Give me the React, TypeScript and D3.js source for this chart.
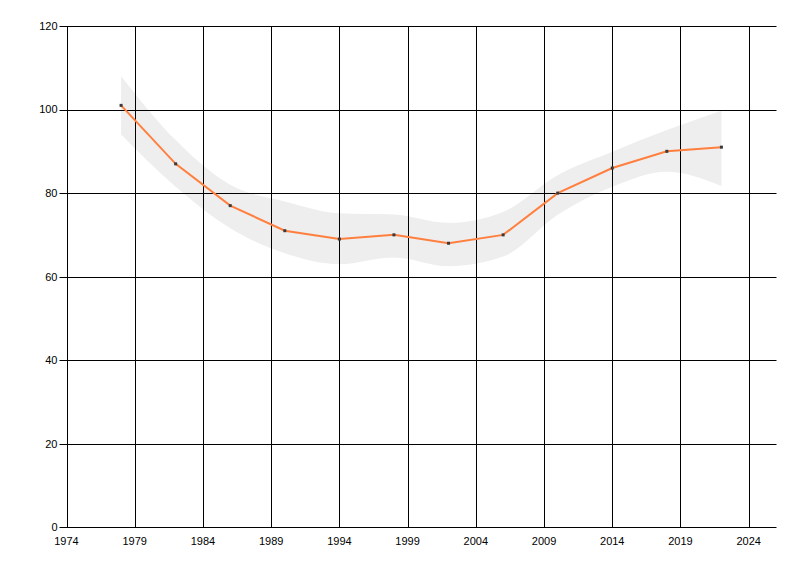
import React from "react";
import * as d3 from "d3";

const years = [1978, 1982, 1986, 1990, 1994, 1998, 2002, 2006, 2010, 2014, 2018, 2022];
const values = [101, 87, 77, 71, 69, 70, 68, 70, 80, 86, 90, 91];
const upper = [108, 92.7, 82, 78, 75.2, 74.9, 72.9, 75.5, 84.3, 89.9, 95.1, 99.7];
const lower = [94, 81.5, 71.6, 65.6, 63, 64.6, 62.5, 64.8, 74.8, 81.5, 85.1, 81.7];
const xTicks = [1974, 1979, 1984, 1989, 1994, 1999, 2004, 2009, 2014, 2019, 2024];
const yTicks = [0, 20, 40, 60, 80, 100, 120];

const W = 800;
const H = 576;
const left = 66.5;
const right = 776;
const top = 26;
const bottom = 527.3;

export default function App() {
  const x = d3.scaleLinear().domain([1974, 2026]).range([left, right]);
  const y = d3.scaleLinear().domain([0, 120]).range([bottom, top]);
  const idx = years.map((_, i) => i);
  const area = d3
    .area<number>()
    .x((i) => x(years[i]))
    .y0((i) => y(lower[i]))
    .y1((i) => y(upper[i]))
    .curve(d3.curveMonotoneX);
  const line = d3
    .line<number>()
    .x((i) => x(years[i]))
    .y((i) => y(values[i]));
  const font = "'Liberation Sans', Arial, sans-serif";
  const snap = (v: number) => Math.round(v) + 0.5;
  return (
    <svg
      width={W}
      height={H}
      style={{ position: "absolute", left: 0, top: 0, background: "#fff" }}
    >
      <path d={area(idx) || ""} fill="#eeeeee" />
      {xTicks.map((t) => (
        <line
          key={"gx" + t}
          x1={snap(x(t))}
          x2={snap(x(t))}
          y1={snap(y(120))}
          y2={snap(y(0))}
          stroke="#000"
          strokeWidth={1}
        />
      ))}
      {yTicks.map((t) => (
        <line
          key={"gy" + t}
          x1={snap(left) - 8}
          x2={snap(right)}
          y1={snap(y(t))}
          y2={snap(y(t))}
          stroke="#000"
          strokeWidth={1}
        />
      ))}
      <path d={line(idx) || ""} fill="none" stroke="#ff7f3f" strokeWidth={2} />
      {idx.map((i) => (
        <rect
          key={"p" + i}
          x={x(years[i]) - 1.5}
          y={y(values[i]) - 1.5}
          width={3}
          height={3}
          fill="#3a3a3a"
        />
      ))}
      {yTicks.map((t) => (
        <text
          key={"ty" + t}
          x={snap(left) - 10}
          y={y(t)}
          dy="0.35em"
          textAnchor="end"
          fontFamily={font}
          fontSize={11}
          fill="#000"
        >
          {t}
        </text>
      ))}
      {xTicks.map((t) => (
        <text
          key={"tx" + t}
          x={x(t)}
          y={y(0) + 14}
          dy="0.35em"
          textAnchor="middle"
          fontFamily={font}
          fontSize={11}
          fill="#000"
        >
          {t}
        </text>
      ))}
    </svg>
  );
}
